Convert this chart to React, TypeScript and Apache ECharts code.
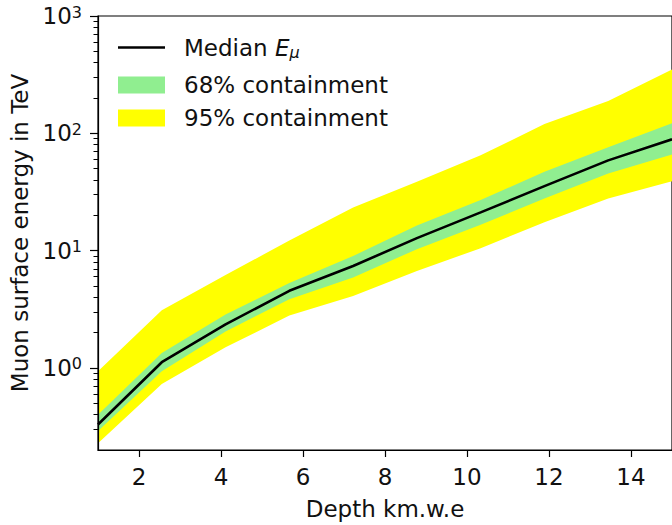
import React, { useEffect, useRef } from 'react';
import * as echarts from 'echarts';

const depth = [1, 2.556, 4.111, 5.667, 7.222, 8.778, 10.333, 11.889, 13.444, 15];
const median = [0.33, 1.12, 2.35, 4.55, 7.4, 12.8, 21.2, 35.5, 58.8, 89];
const lo68 = [0.29, 0.94, 2.05, 3.85, 5.9, 10.3, 16.6, 27.9, 45.4, 66];
const hi68 = [0.4, 1.34, 2.86, 5.3, 9.0, 16.4, 27, 47, 76, 122];
const lo95 = [0.228, 0.73, 1.5, 2.8, 4.1, 6.7, 10.5, 17.5, 27.9, 39];
const hi95 = [0.94, 3.1, 6.2, 12.2, 23.3, 38.6, 65, 120, 189, 350];

const xTicks = [2, 4, 6, 8, 10, 12, 14];
const yTicks = [1, 10, 100, 1000];
const yMinorTicks = [
  0.3, 0.4, 0.5, 0.6, 0.7, 0.8, 0.9,
  2, 3, 4, 5, 6, 7, 8, 9,
  20, 30, 40, 50, 60, 70, 80, 90,
  200, 300, 400, 500, 600, 700, 800, 900,
];

const FONT = 'DejaVu Sans';
const TXT = '#111';

function bandSeries(name: string, lo: number[], hi: number[], color: string, z: number) {
  return {
    type: 'custom',
    name,
    z,
    clip: true,
    itemStyle: { color },
    data: depth.map((d, i) => [d, lo[i], hi[i]]),
    encode: { x: 0, y: [1, 2] },
    renderItem: (params: any, api: any) => {
      if (params.dataIndex !== 0) return { type: 'group', children: [] };
      const upper = depth.map((d, i) => api.coord([d, hi[i]]));
      const lower = depth.map((d, i) => api.coord([d, lo[i]])).reverse();
      return {
        type: 'polygon',
        shape: { points: [...upper, ...lower] },
        style: { fill: color, stroke: null },
      };
    },
  };
}

export default function App() {
  const ref = useRef<HTMLDivElement>(null);
  useEffect(() => {
    if (!ref.current) return;
    const chart = echarts.init(ref.current, undefined, { renderer: 'svg' });
    const option: any = {
      animation: false,
      backgroundColor: '#fff',
      grid: {
        left: 98,
        top: 16,
        right: -2,
        bottom: 72,
        show: true,
        borderColor: '#000',
        borderWidth: 1.2,
        backgroundColor: 'transparent',
      },
      legend: {
        orient: 'vertical',
        left: 118,
        top: 31,
        padding: 0,
        itemGap: 9,
        itemWidth: 47,
        itemHeight: 17,
        symbolKeepAspect: true,
        textStyle: {
          fontFamily: FONT,
          fontSize: 23,
          color: TXT,
          lineHeight: 24,
          padding: [0, 0, 0, 14],
          rich: {
            i: { fontFamily: FONT, fontSize: 23, fontStyle: 'italic', color: TXT, lineHeight: 24 },
            sub: { fontFamily: FONT, fontSize: 16, fontStyle: 'italic', color: TXT, lineHeight: 15, verticalAlign: 'bottom' },
          },
        },
        formatter: (name: string) => (name === 'Median' ? 'Median {i|E}{sub|μ}' : name),
        data: [
          { name: 'Median', icon: 'path://M0,0H47V2.6H0Z', textStyle: { padding: [5, 0, 4, 14] } },
          { name: '68% containment', icon: 'rect' },
          { name: '95% containment', icon: 'rect' },
        ],
      },
      xAxis: {
        type: 'value',
        min: 1,
        max: 15,
        name: 'Depth km.w.e',
        nameLocation: 'middle',
        nameGap: 47,
        nameTextStyle: { fontFamily: FONT, fontSize: 23, color: TXT },
        axisLine: { show: true, lineStyle: { color: '#000', width: 1.2 } },
        axisTick: { show: true, length: 7, inside: false, customValues: xTicks, lineStyle: { color: '#000', width: 1.2 } },
        axisLabel: { customValues: xTicks, fontFamily: FONT, fontSize: 23, color: TXT, margin: 15 },
        splitLine: { show: false },
        z: 10,
      },
      yAxis: [
        {
          type: 'log',
          logBase: 10,
          min: 0.2,
          max: 1000,
          position: 'left',
          name: 'Muon surface energy in TeV',
          nameLocation: 'middle',
          nameGap: 64,
          nameRotate: 90,
          nameTextStyle: { fontFamily: FONT, fontSize: 23, color: TXT },
          axisLine: { show: true, lineStyle: { color: '#000', width: 1.2 } },
          axisTick: { show: true, length: 8, inside: false, customValues: yTicks, lineStyle: { color: '#000', width: 1.2 } },
          axisLabel: {
            customValues: yTicks,
            margin: 16,
            formatter: (v: number) => `{b|10}{s|${Math.round(Math.log10(v))}}`,
            rich: {
              b: { fontFamily: FONT, fontSize: 23, color: TXT, lineHeight: 24 },
              s: { fontFamily: FONT, fontSize: 16, color: TXT, lineHeight: 16, verticalAlign: 'top' },
            },
          },
          splitLine: { show: false },
          z: 10,
        },
        {
          type: 'log',
          logBase: 10,
          min: 0.2,
          max: 1000,
          position: 'left',
          axisLine: { show: false },
          axisTick: { show: true, length: 4.5, inside: false, customValues: yMinorTicks, lineStyle: { color: '#000', width: 1 } },
          axisLabel: { show: false },
          splitLine: { show: false },
          z: 10,
        },
      ],
      series: [
        bandSeries('95% containment', lo95, hi95, '#ffff00', 1),
        bandSeries('68% containment', lo68, hi68, '#90ee90', 2),
        {
          type: 'line',
          name: 'Median',
          z: 5,
          data: depth.map((d, i) => [d, median[i]]),
          showSymbol: false,
          symbol: 'none',
          color: '#000',
          itemStyle: { color: '#000' },
          lineStyle: { color: '#000', width: 2.6 },
        },
      ],
    };
    chart.setOption(option);
    return () => chart.dispose();
  }, []);
  return (
    <div
      ref={ref}
      style={{ position: 'fixed', left: 0, top: 0, width: 672, height: 525, background: '#fff' }}
    />
  );
}
